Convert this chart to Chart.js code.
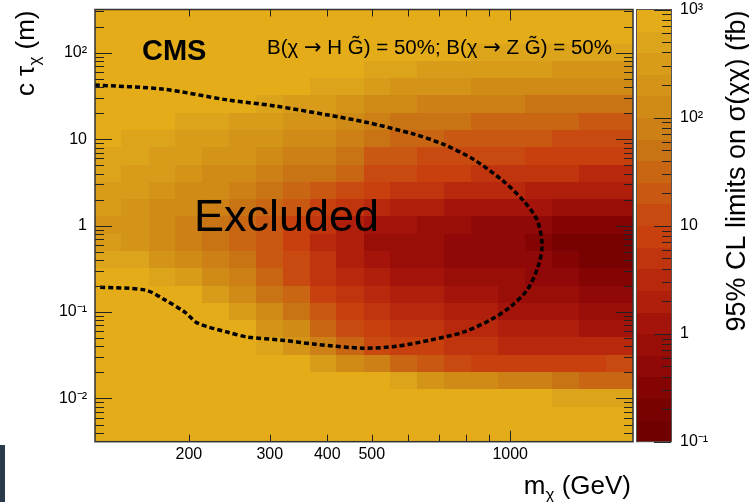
<!DOCTYPE html>
<html>
<head>
<meta charset="utf-8">
<script src="https://cdn.jsdelivr.net/npm/chart.js@4.4.1/dist/chart.umd.min.js"></script>
<style>
  html, body { margin: 0; padding: 0; background: #fff; }
  #wrap { position: relative; width: 749px; height: 502px; }
  #tab { position: absolute; left: 0; top: 445px; width: 5px; height: 57px; background: #2b3a4a; }
</style>
</head>
<body>
<div id="wrap"><canvas id="myChart" width="749" height="502"></canvas><div id="tab"></div></div>
<script>
// bin edges of the limit map
const massEdges = [125, 143, 164, 187, 214, 245, 281, 321, 367, 420, 481, 550, 630, 720, 824, 943, 1079, 1234, 1413, 1616, 1850];
const ctauEdges = [316, 200, 126, 79.4, 50.1, 31.6, 20.0, 12.6, 7.94, 5.01, 3.16, 2.00, 1.26, 0.794, 0.501, 0.316, 0.200, 0.126, 0.0794, 0.0501, 0.0316, 0.0200, 0.0126, 0.00794, 0.00501, 0.00316];
// log10 of the 95% CL limit on sigma (fb), rows = ctau bins (top first), cols = mass bins
const limitLog10 = [
    [3, 3, 3, 3, 3, 3, 3, 3, 3, 3, 3, 3, 3, 3, 3, 3, 3, 3, 3, 3],
    [3, 3, 3, 3, 3, 3, 3, 3, 3, 3, 3, 3, 3, 3, 3, 3, 3, 3, 2.9, 2.85],
    [3, 3, 3, 3, 3, 3, 3, 3, 3, 3, 2.95, 2.9, 2.85, 2.8, 2.75, 2.7, 2.7, 2.65, 2.6, 2.6],
    [3, 3, 3, 3, 3, 3, 3, 3, 3, 2.85, 2.7, 2.6, 2.55, 2.5, 2.45, 2.4, 2.4, 2.35, 2.3, 2.3],
    [3, 3, 3, 3, 3, 3, 3, 2.85, 2.75, 2.6, 2.4, 2.3, 2.25, 2.2, 2.15, 2.1, 2.05, 2.0, 2.0, 2.0],
    [3, 3, 3, 3, 2.9, 2.8, 2.7, 2.55, 2.4, 2.3, 2.1, 2.0, 1.95, 1.9, 1.85, 1.8, 1.75, 1.7, 1.65, 1.6],
    [3, 2.95, 2.8, 2.7, 2.6, 2.5, 2.4, 2.3, 2.2, 2.05, 1.85, 1.75, 1.65, 1.6, 1.55, 1.5, 1.45, 1.4, 1.35, 1.3],
    [2.9, 2.75, 2.65, 2.55, 2.45, 2.35, 2.25, 2.1, 2.0, 1.85, 1.6, 1.5, 1.4, 1.35, 1.3, 1.25, 1.2, 1.15, 1.1, 1.05],
    [2.7, 2.6, 2.5, 2.4, 2.3, 2.2, 2.1, 1.95, 1.8, 1.65, 1.35, 1.25, 1.15, 1.1, 1.05, 1.0, 0.95, 0.9, 0.85, 0.8],
    [2.6, 2.5, 2.4, 2.3, 2.15, 2.05, 1.9, 1.75, 1.6, 1.4, 1.1, 1.0, 0.9, 0.8, 0.75, 0.7, 0.65, 0.6, 0.55, 0.55],
    [2.5, 2.4, 2.3, 2.15, 2.0, 1.9, 1.75, 1.55, 1.35, 1.0, 0.8, 0.7, 0.6, 0.5, 0.45, 0.4, 0.35, 0.3, 0.25, 0.2],
    [2.4, 2.25, 2.1, 2.0, 1.85, 1.7, 1.5, 1.3, 0.95, 0.7, 0.45, 0.35, 0.25, 0.15, 0.1, 0.05, 0.0, -0.05, -0.1, -0.1],
    [2.35, 2.2, 2.05, 1.9, 1.7, 1.5, 1.25, 0.95, 0.7, 0.35, 0.1, 0.0, -0.1, -0.2, -0.25, -0.3, -0.4, -0.5, -0.6, -0.6],
    [2.4, 2.3, 2.1, 1.95, 1.75, 1.5, 1.2, 0.9, 0.55, 0.2, -0.05, -0.15, -0.2, -0.35, -0.35, -0.4, -0.5, -0.65, -0.7, -0.7],
    [2.7, 2.6, 2.35, 2.15, 1.9, 1.6, 1.3, 1.0, 0.6, 0.25, 0.05, -0.05, -0.2, -0.25, -0.3, -0.35, -0.4, -0.5, -0.65, -0.65],
    [3, 3, 2.7, 2.45, 2.1, 1.85, 1.45, 1.15, 0.75, 0.4, 0.3, 0.15, 0.0, -0.05, -0.15, -0.2, -0.25, -0.35, -0.45, -0.45],
    [3, 3, 3, 2.85, 2.45, 2.1, 1.7, 1.4, 0.95, 0.6, 0.5, 0.35, 0.2, 0.1, 0.0, -0.05, -0.15, -0.2, -0.3, -0.3],
    [3, 3, 3, 3, 2.85, 2.45, 2.0, 1.7, 1.25, 0.85, 0.7, 0.55, 0.4, 0.25, 0.2, 0.1, 0.05, 0.0, -0.1, -0.05],
    [3, 3, 3, 3, 3, 2.85, 2.3, 2.0, 1.55, 1.1, 0.95, 0.75, 0.6, 0.5, 0.4, 0.35, 0.25, 0.2, 0.15, 0.1],
    [3, 3, 3, 3, 3, 3, 2.7, 2.35, 1.85, 1.4, 1.05, 0.9, 0.8, 0.7, 0.6, 0.55, 0.5, 0.5, 0.45, 0.45],
    [3, 3, 3, 3, 3, 3, 3, 3, 2.5, 2.0, 1.85, 1.5, 1.2, 1.0, 0.95, 0.9, 0.9, 0.9, 0.95, 1.0],
    [3, 3, 3, 3, 3, 3, 3, 3, 3, 3, 2.9, 2.6, 2.3, 2.1, 2.0, 1.9, 1.8, 1.6, 1.5, 1.5],
    [3, 3, 3, 3, 3, 3, 3, 3, 3, 3, 3, 3, 3, 3, 3, 3, 2.9, 2.7, 2.6, 2.6],
    [3, 3, 3, 3, 3, 3, 3, 3, 3, 3, 3, 3, 3, 3, 3, 3, 3, 3, 3, 3],
    [3, 3, 3, 3, 3, 3, 3, 3, 3, 3, 3, 3, 3, 3, 3, 3, 3, 3, 3, 3],
];
// exclusion contour (mass GeV, ctau m)
const contourMass = [125, 175, 243, 308, 402, 483, 615, 714, 830, 960, 1066, 1144, 1173, 1149, 1088, 999, 904, 790, 669, 567, 479, 376, 319, 269, 243, 209, 196, 178, 161, 127];
const contourCtau = [42.3, 38.0, 28.4, 24.2, 19.0, 15.8, 11.5, 8.77, 5.89, 3.36, 1.97, 1.16, 0.594, 0.331, 0.179, 0.114, 0.0806, 0.0585, 0.0473, 0.0403, 0.0382, 0.0425, 0.0473, 0.0512, 0.0585, 0.0745, 0.0998, 0.137, 0.179, 0.194];
// tick labels
const massLabelValues = [200, 300, 400, 500, 1000];
const massLabelText = ['200', '300', '400', '500', '1000'];
const massTickMarks = [200, 300, 400, 500, 600, 700, 800, 900, 1000];
const ctauLabelValues = [0.01, 0.1, 1, 10, 100];
const ctauLabelText = ['10\u207B\u00B2', '10\u207B\u00B9', '1', '10', '10\u00B2'];
const limitLabelValues = [0.1, 1, 10, 100, 1000];
const limitLabelText = ['10\u207B\u00B9', '1', '10', '10\u00B2', '10\u00B3'];

// colour palette, one colour per 0.2 in log10(limit), from 10^-1 to 10^3
const palette = ['#700000', '#780202', '#840404', '#900808', '#9a0e08',
    '#a4140a', '#b01e0c', '#b8280c', '#c0340e', '#c8400e',
    '#c84a10', '#c85812', '#c86614', '#c87414', '#cc8015',
    '#d08a16', '#d49418', '#d89c1a', '#dca41a', '#e4ac18'];
const zLogMin = -1, zLogStep = 0.2;

const FONT = "'Liberation Sans', Arial, sans-serif";

function colorFor(v) {
    let l = Math.floor((v - zLogMin) / zLogStep + 1e-6);
    l = Math.max(0, Math.min(palette.length - 1, l));
    return palette[l];
}

function labelFor(values, texts) {
    return function (value) {
        for (let i = 0; i < values.length; i++) {
            if (Math.abs(values[i] - value) < values[i] * 1e-3) return texts[i];
        }
        return '';
    };
}

function drawParts(ctx, parts, x, y, align) {
    let w = 0;
    parts.forEach(p => { ctx.font = p.font; w += ctx.measureText(p.t).width; });
    let cx = align === 'right' ? x - w : x;
    ctx.textAlign = 'left';
    ctx.textBaseline = 'alphabetic';
    parts.forEach(p => {
        ctx.font = p.font;
        ctx.fillText(p.t, cx, y + (p.dy || 0));
        cx += ctx.measureText(p.t).width;
    });
}

function logMarks(lo, hi) {
    // 1..9 x 10^n marks inside [lo, hi]
    const out = [];
    for (let e = Math.floor(Math.log10(lo)) - 1; e <= Math.ceil(Math.log10(hi)); e++) {
        for (let k = 1; k <= 9; k++) {
            const v = k * Math.pow(10, e);
            if (v >= lo * 0.999 && v <= hi * 1.001) out.push({ v: v, major: k === 1 });
        }
    }
    return out;
}

function noPad(s) {
    s.paddingTop = 0;
    s.paddingBottom = 0;
    s.paddingLeft = 0;
    s.paddingRight = 0;
}

const heatmapPlugin = {
    id: 'heatmap',
    beforeDatasetsDraw(chart) {
        const { ctx, chartArea: a, scales: { x, y, z } } = chart;
        ctx.save();
        ctx.beginPath();
        ctx.rect(a.left, a.top, a.right - a.left, a.bottom - a.top);
        ctx.clip();
        for (let r = 0; r < limitLog10.length; r++) {
            const y0 = y.getPixelForValue(ctauEdges[r]);
            const y1 = y.getPixelForValue(ctauEdges[r + 1]);
            for (let c = 0; c < limitLog10[r].length; c++) {
                const x0 = x.getPixelForValue(massEdges[c]);
                const x1 = x.getPixelForValue(massEdges[c + 1]);
                ctx.fillStyle = colorFor(limitLog10[r][c]);
                ctx.fillRect(Math.floor(x0), Math.floor(y0), Math.ceil(x1) - Math.floor(x0) + 1, Math.ceil(y1) - Math.floor(y0) + 1);
            }
        }
        ctx.restore();

        // colour bar, drawn through the z scale
        const cbL = a.right + 3, cbR = a.right + 38;
        for (let i = 0; i < palette.length; i++) {
            const lo = Math.pow(10, zLogMin + zLogStep * i);
            const hi = Math.pow(10, zLogMin + zLogStep * (i + 1));
            const yt = z.getPixelForValue(hi), yb = z.getPixelForValue(lo);
            ctx.fillStyle = palette[i];
            ctx.fillRect(cbL, Math.floor(yt), cbR - cbL, Math.ceil(yb) - Math.floor(yt));
        }
    },
    afterDatasetsDraw(chart) {
        const { ctx, chartArea: a, scales: { x, y, z } } = chart;
        const cbL = a.right + 3, cbR = a.right + 38;
        ctx.save();
        // ticks
        ctx.strokeStyle = '#222';
        ctx.lineWidth = 1;
        ctx.beginPath();
        massTickMarks.forEach(v => {
            const px = Math.round(x.getPixelForValue(v)) + 0.5;
            const len = v === 1000 ? 11 : 7;
            ctx.moveTo(px, a.bottom); ctx.lineTo(px, a.bottom - len);
            ctx.moveTo(px, a.top); ctx.lineTo(px, a.top + len);
        });
        logMarks(y.min, y.max).forEach(m => {
            const py = Math.round(y.getPixelForValue(m.v)) + 0.5;
            const len = m.major ? 17 : 9;
            ctx.moveTo(a.left, py); ctx.lineTo(a.left + len, py);
            ctx.moveTo(a.right, py); ctx.lineTo(a.right - len, py);
        });
        logMarks(z.min, z.max).forEach(m => {
            const py = Math.round(z.getPixelForValue(m.v)) + 0.5;
            const len = m.major ? 17 : 9;
            ctx.moveTo(cbR, py); ctx.lineTo(cbR - len, py);
        });
        ctx.stroke();
        // frames
        ctx.strokeStyle = '#333';
        ctx.lineWidth = 1.5;
        ctx.strokeRect(a.left, a.top, a.right - a.left, a.bottom - a.top);
        ctx.lineWidth = 1;
        ctx.strokeStyle = '#555';
        ctx.strokeRect(cbL + 0.5, a.top, cbR - cbL, a.bottom - a.top);

        // texts
        ctx.fillStyle = '#000';
        ctx.textAlign = 'left';
        ctx.textBaseline = 'alphabetic';
        ctx.font = 'bold 29px ' + FONT;
        ctx.fillText('CMS', a.left + 47, a.top + 50);
        const arrowFont = "21px 'DejaVu Sans', sans-serif";
        const bFont = '20.5px ' + FONT;
        drawParts(ctx, [
            { t: 'B(\u03C7 ', font: bFont },
            { t: '\u2192', font: arrowFont },
            { t: ' H G\u0303) = 50%; B(\u03C7 ', font: bFont },
            { t: '\u2192', font: arrowFont },
            { t: ' Z G\u0303) = 50%', font: bFont },
        ], a.left + 172, a.top + 44, 'left');
        ctx.font = '45px ' + FONT;
        ctx.fillText('Excluded', a.left + 99, a.top + 221);

        // x title
        drawParts(ctx, [
            { t: 'm', font: '26px ' + FONT },
            { t: '\u03C7', font: '17px ' + FONT, dy: 6 },
            { t: ' (GeV)', font: '26px ' + FONT },
        ], a.right - 2, 494, 'right');

        // y title
        ctx.save();
        ctx.translate(34, a.top + 1);
        ctx.rotate(-Math.PI / 2);
        drawParts(ctx, [
            { t: 'c \u03C4', font: '26px ' + FONT },
            { t: '\u03C7', font: '17px ' + FONT, dy: 6 },
            { t: ' (m)', font: '26px ' + FONT },
        ], 0, 0, 'right');
        ctx.restore();

        // colour bar title
        ctx.save();
        ctx.translate(745, a.top + 1);
        ctx.rotate(-Math.PI / 2);
        drawParts(ctx, [
            { t: '95% CL limits on \u03C3(\u03C7\u03C7) (fb)', font: '27px ' + FONT },
        ], 0, 0, 'right');
        ctx.restore();
        ctx.restore();
    },
};

const tickFont = { family: FONT, size: 16 };

const ctx = document.getElementById('myChart');
const chart = new Chart(ctx, {
    type: 'scatter',
    data: {
        datasets: [
            {
                label: 'Excluded',
                data: contourMass.map((m, i) => ({ x: m, y: contourCtau[i] })),
                showLine: true,
                borderColor: '#000',
                borderWidth: 3.5,
                borderDash: [5, 3],
                pointRadius: 0,
                tension: 0.3,
                fill: false,
            },
        ],
    },
    options: {
        responsive: false,
        animation: false,
        layout: { padding: { top: 9.5, left: 0, right: 0, bottom: 0 } },
        scales: {
            x: {
                type: 'logarithmic',
                position: 'bottom',
                min: 125,
                max: 1850,
                grid: { display: false, drawTicks: false },
                border: { display: false },
                afterBuildTicks: s => { s.ticks = massLabelValues.map(v => ({ value: v })); },
                afterFit: s => { s.height = 60.3; noPad(s); },
                ticks: { font: tickFont, color: '#000', padding: 3, maxRotation: 0, autoSkip: false, callback: labelFor(massLabelValues, massLabelText) },
            },
            y: {
                type: 'logarithmic',
                position: 'left',
                min: 0.0031623,
                max: 316.23,
                grid: { display: false, drawTicks: false },
                border: { display: false },
                afterBuildTicks: s => { s.ticks = ctauLabelValues.map(v => ({ value: v })); },
                afterFit: s => { s.width = 95; noPad(s); },
                ticks: { font: tickFont, color: '#000', padding: 8, autoSkip: false, callback: labelFor(ctauLabelValues, ctauLabelText) },
            },
            z: {
                type: 'logarithmic',
                axis: 'y',
                position: 'right',
                min: 0.1,
                max: 1000,
                grid: { display: false, drawTicks: false },
                border: { display: false },
                afterBuildTicks: s => { s.ticks = limitLabelValues.map(v => ({ value: v })); },
                afterFit: s => { s.width = 116; noPad(s); },
                ticks: { font: tickFont, color: '#000', padding: 47, autoSkip: false, callback: labelFor(limitLabelValues, limitLabelText) },
            },
        },
        plugins: {
            legend: { display: false },
            tooltip: { enabled: false },
        },
    },
    plugins: [heatmapPlugin],
});
</script>
</body>
</html>
